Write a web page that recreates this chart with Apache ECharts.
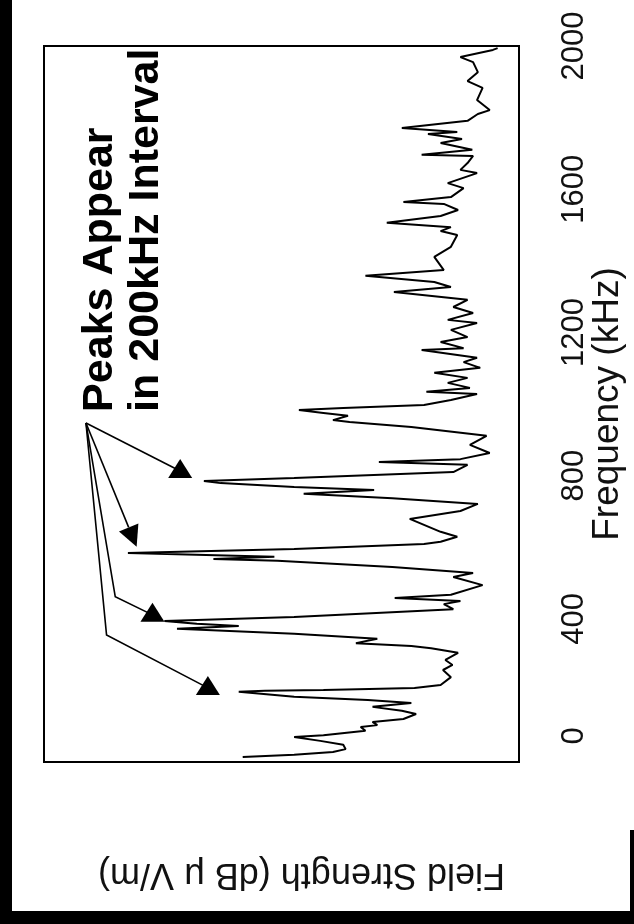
<!DOCTYPE html>
<html>
<head>
<meta charset="utf-8">
<script src="https://cdn.jsdelivr.net/npm/echarts@6/dist/echarts.min.js"></script>
<style>
html,body{margin:0;padding:0;background:#fff;}
#c{width:634px;height:924px;}
</style>
</head>
<body>
<div id="c"></div>
<script>
// Frequency (kHz) of each traced point, increasing
const frequencyKHz = [
  14,20,28,36,48,59,70,75,87,98,
  103,112,120,134,143,154,165,173,182,196,
  199,201,207,215,237,257,271,285,305,318,
  324,332,344,358,372,380,386,394,405,427,
  441,450,458,467,494,517,528,545,562,567,
  573,584,595,609,615,629,643,679,701,721,
  737,749,760,768,779,785,793,810,830,838,
  846,863,886,911,936,950,955,967,975,983,
  989,997,1011,1028,1034,1045,1059,1073,1087,1101,
  1117,1129,1151,1156,1173,1187,1207,1226,1235,1254,
  1271,1291,1313,1327,1341,1358,1374,1411,1439,1472,
  1483,1494,1506,1525,1542,1559,1564,1578,1603,1617,
  1645,1654,1673,1693,1696,1710,1729,1740,1754,1760,
  1771,1791,1810,1821,1849,1883,1902,1927,1955,1969,
  1989,1994
];
// Field strength (dB uV/m, relative scale) at each point
const fieldStrength = [
  34.9,28.4,23.5,21.9,22.2,25.1,28.4,24.7,19.4,20.0,
  17.9,18.5,14.6,13.0,14.8,18.5,13.6,19.1,28.4,35.4,
  32.1,24.7,13.2,9.9,8.6,9.6,8.4,9.3,7.7,11.1,
  13.6,20.6,17.9,28.4,43.2,35.4,40.7,44.8,28.4,8.3,
  9.5,7.4,15.7,8.6,4.6,8.3,5.8,16.0,30.5,38.6,
  30.9,49.4,28.4,12.0,9.9,7.8,9.9,13.8,7.4,5.2,
  16.0,27.2,18.3,28.4,37.7,39.8,28.4,8.3,6.5,17.7,
  7.4,3.7,6.2,4.1,13.6,21.4,23.5,21.6,24.7,27.8,
  22.2,12.0,8.6,5.3,11.7,6.2,9.0,6.5,10.7,4.9,
  7.0,5.3,12.3,7.0,9.9,6.5,8.6,5.3,9.0,5.8,
  8.3,6.5,15.8,8.6,10.7,19.4,9.5,10.7,8.6,7.8,
  9.9,8.6,16.7,9.9,7.7,9.5,14.6,8.6,7.0,9.0,
  5.3,7.4,6.5,5.8,12.3,5.9,9.9,7.2,11.5,7.8,
  14.8,6.5,5.2,3.7,5.3,4.6,6.5,5.2,5.8,7.4,
  3.3,2.7
];
const freqTicks = [0, 400, 800, 1200, 1600, 2000];
const freqTitle = 'Frequency (kHz)';
const fieldTitle = 'Field Strength (dB \u03bc V/m)';
const noteLines = ['Peaks Appear', 'in 200kHz Interval'];

// annotation anchors in data units [field strength, frequency]
const noteAnchor = [55.8, 978];
const arrowApex = [54.7, 947];
const arrowUpright = [            // arrows ending in an upright triangle
  {bends: [], head: [42.8, 813]},
  {bends: [[51.0, 462]], head: [46.3, 411]},
  {bends: [[52.1, 355]], head: [39.3, 207]}
];
const arrowPointed = {tip: [48.3, 601]}; // arrow with head along its line

const chart = echarts.init(document.getElementById('c'), null, {renderer: 'canvas'});
const FONT = '"Liberation Sans", Arial, Helvetica, sans-serif';

chart.setOption({
  animation: false,
  backgroundColor: '#fff',
  grid: {left: 44, right: 104, top: 46, bottom: 162, show: true,
         borderColor: '#000', borderWidth: 2, backgroundColor: 'transparent'},
  xAxis: {
    type: 'value', min: 0, max: 60, inverse: true,
    axisLine: {show: true, onZero: false, lineStyle: {color: '#000', width: 2}},
    axisTick: {show: false}, axisLabel: {show: false}, splitLine: {show: false},
    name: fieldTitle, nameLocation: 'middle', nameRotate: 180, nameGap: 94,
    nameMoveOverlap: false,
    nameTextStyle: {fontFamily: FONT, fontSize: 36, color: '#111', padding: [0, 40, 0, 0]}
  },
  yAxis: {
    type: 'value', min: freqTicks[0], max: freqTicks[freqTicks.length - 1], interval: 400,
    position: 'right',
    axisLine: {show: true, onZero: false, lineStyle: {color: '#000', width: 2}},
    axisTick: {show: false}, splitLine: {show: false},
    axisLabel: {rotate: 90, margin: 40, fontFamily: FONT, fontSize: 31, color: '#111',
                formatter: v => freqTicks.indexOf(v) < 0 ? '' : (v === freqTicks[0] ? '{m|' + v + '}' : String(v)),
                rich: {m: {fontFamily: FONT, fontSize: 31, color: '#111', padding: [0, 0, 0, 52]}}},
    name: freqTitle, nameLocation: 'middle', nameRotate: 90, nameGap: 70,
    nameMoveOverlap: false,
    nameTextStyle: {fontFamily: FONT, fontSize: 37, color: '#111'}
  },
  series: [{
    type: 'line',
    data: frequencyKHz.map((f, i) => [fieldStrength[i], f]),
    showSymbol: false, symbol: 'none',
    lineStyle: {color: '#000', width: 2},
    z: 5
  }]
});

function drawGraphics() {
  const P = p => chart.convertToPixel({gridIndex: 0}, p);
  const g = [];
  // scanned page edges
  g.push({type: 'rect', shape: {x: 0, y: 0, width: 12, height: 924}, style: {fill: '#000'}, z: 100});
  g.push({type: 'rect', shape: {x: 0, y: 911, width: 634, height: 13}, style: {fill: '#000'}, z: 100});
  g.push({type: 'rect', shape: {x: 630, y: 830, width: 4, height: 94}, style: {fill: '#000'}, z: 100});

  const apex = P(arrowApex);
  arrowUpright.forEach(a => {
    const pts = [apex].concat(a.bends.map(P));
    const h = P(a.head);
    pts.push(h);
    g.push({type: 'polyline', shape: {points: pts}, style: {stroke: '#000', lineWidth: 1.6, fill: null}, z: 10});
    g.push({type: 'polygon', shape: {points: [[h[0], h[1] - 12], [h[0] - 12, h[1] + 7], [h[0] + 12, h[1] + 7]]},
            style: {fill: '#000'}, z: 11});
  });
  const t = P(arrowPointed.tip);
  const dx = t[0] - apex[0], dy = t[1] - apex[1], len = Math.hypot(dx, dy);
  const ux = dx / len, uy = dy / len;
  const bx = t[0] - 21 * ux, by = t[1] - 21 * uy;
  g.push({type: 'polyline', shape: {points: [apex, [bx, by]]}, style: {stroke: '#000', lineWidth: 1.6, fill: null}, z: 10});
  g.push({type: 'polygon', shape: {points: [t, [bx - 10.5 * uy, by + 10.5 * ux], [bx + 10.5 * uy, by - 10.5 * ux]]},
          style: {fill: '#000'}, z: 11});

  const na = P(noteAnchor);
  g.push({type: 'text', x: na[0], y: na[1], rotation: Math.PI / 2, z: 12,
          style: {text: noteLines.join('\n'), fontFamily: FONT, fontWeight: 'bold', fontSize: 43,
                  lineHeight: 46, fill: '#000', align: 'left', verticalAlign: 'top',
                  textAlign: 'left', textVerticalAlign: 'top'}});
  chart.setOption({graphic: g});
}
drawGraphics();
</script>
</body>
</html>
